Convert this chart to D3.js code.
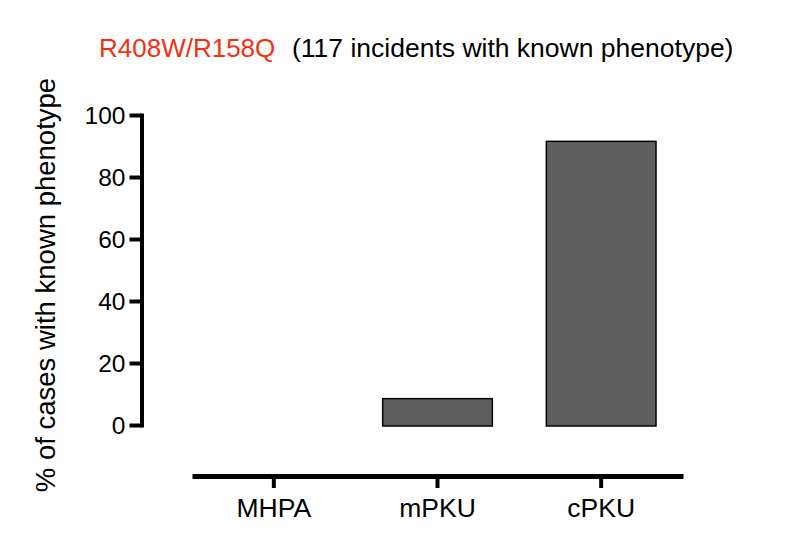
<!DOCTYPE html>
<html>
<head>
<meta charset="utf-8">
<script src="https://cdn.jsdelivr.net/npm/d3@7"></script>
<style>
  html, body { margin: 0; padding: 0; background: #fff; }
  text { font-family: Arial, "Liberation Sans", Helvetica, sans-serif; }
</style>
</head>
<body>
<svg id="chart" width="800" height="550"></svg>
<script>
const categories = ["MHPA", "mPKU", "cPKU"];
const values = [0, 8.5, 91.5];
const yTicks = [0, 20, 40, 60, 80, 100];
const titleRed = "R408W/R158Q";
const titleBlack = "(117 incidents with known phenotype)";
const yLabel = "% of cases with known phenotype";

const svg = d3.select("#chart");

const x = d3.scaleBand().domain(categories).range([192, 683]).paddingInner(0.33).paddingOuter(0.165);
const y = d3.scaleLinear().domain([0, 100]).range([425, 115]);

// bars
svg.append("g").selectAll("rect")
  .data(categories.map((c, i) => ({c, v: values[i]})).filter(d => d.v > 0))
  .join("rect")
  .attr("x", d => x(d.c))
  .attr("width", x.bandwidth())
  .attr("y", d => y(d.v))
  .attr("height", d => y(0) - y(d.v) + 1)
  .attr("fill", "#5f5f5f")
  .attr("stroke", "#000")
  .attr("stroke-width", 1.5);

// y axis
const yAxis = svg.append("g").attr("transform", "translate(141.5,0)")
  .call(d3.axisLeft(y).tickValues(yTicks).tickSize(12).tickPadding(4).tickSizeOuter(0));
yAxis.select(".domain").attr("stroke", "#000").attr("stroke-width", 4).attr("stroke-linecap", "square");
yAxis.selectAll(".tick line").attr("stroke", "#000").attr("stroke-width", 4);
yAxis.selectAll(".tick text").attr("font-size", 24.5).attr("fill", "#000").attr("dy", "0.36em");

// x axis
const xAxis = svg.append("g").attr("transform", "translate(0,476)")
  .call(d3.axisBottom(x).tickSize(12).tickPadding(10).tickSizeOuter(0));
xAxis.select(".domain").attr("stroke", "#000").attr("stroke-width", 5);
xAxis.selectAll(".tick line").attr("stroke", "#000").attr("stroke-width", 4);
xAxis.selectAll(".tick text").attr("font-size", 26.5).attr("fill", "#000").attr("dy", "0.72em");

// y label
svg.append("text")
  .attr("transform", "translate(55,285) rotate(-90)")
  .attr("text-anchor", "middle")
  .attr("font-size", 27.5)
  .attr("fill", "#000")
  .text(yLabel);

// title
svg.append("text").attr("x", 99).attr("y", 57).attr("font-size", 26).attr("fill", "#f5300f").text(titleRed);
svg.append("text").attr("x", 292).attr("y", 57).attr("font-size", 26.5).attr("fill", "#000").text(titleBlack);
</script>
</body>
</html>
